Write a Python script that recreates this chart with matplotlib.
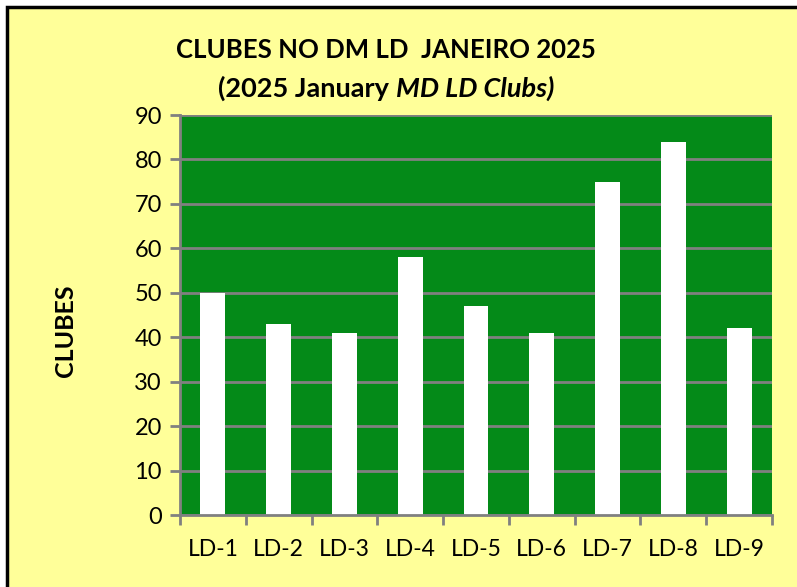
import matplotlib
matplotlib.use("Agg")
import matplotlib.pyplot as plt
from matplotlib.patches import Rectangle

districts = ["LD-1", "LD-2", "LD-3", "LD-4", "LD-5", "LD-6", "LD-7", "LD-8", "LD-9"]
clubs = [50, 43, 41, 58, 47, 41, 75, 84, 42]
y_ticks = [0, 10, 20, 30, 40, 50, 60, 70, 80, 90]

YELLOW = "#FFFF99"
GREEN = "#048A18"
GRAY = "#808080"

plt.rcParams["font.family"] = ["Lato", "DejaVu Sans"]

W, H = 797, 587
fig = plt.figure(figsize=(W / 100, H / 100), dpi=100, facecolor="white")

# yellow chart area with black frame on the left/top (right and bottom cut off)
fig.patches.append(Rectangle((7 / W, -0.05), 1.1, 1 - 7 / H + 0.05,
                             transform=fig.transFigure, facecolor=YELLOW,
                             edgecolor="black", linewidth=2.5, zorder=-5))

ax = fig.add_axes([180 / W, 1 - 515 / H, (772 - 180) / W, (515 - 115) / H])
ax.set_zorder(2)
ax.set_facecolor(GREEN)

x = range(len(districts))
ax.bar(x, clubs, width=0.38, color="white", zorder=3)

ax.set_xlim(-0.5, len(districts) - 0.5)
ax.set_ylim(0, 90)
ax.set_yticks(y_ticks)
ax.set_yticklabels([str(v) for v in y_ticks], fontsize=17)
ax.set_xticks(list(x))
ax.set_xticklabels(districts, fontsize=16.5)
ax.set_xticks([i - 0.5 for i in range(len(districts) + 1)], minor=True)
ax.tick_params(axis="x", which="major", length=0, pad=17)
ax.tick_params(axis="x", which="minor", length=7, width=2, color=GRAY)
ax.tick_params(axis="y", length=7, width=2, color=GRAY, pad=6)

ax.yaxis.grid(True, color=GRAY, linewidth=2, zorder=1)
ax.set_axisbelow(True)
for side in ["top", "right"]:
    ax.spines[side].set_visible(False)
for side in ["left", "bottom"]:
    ax.spines[side].set_color(GRAY)
    ax.spines[side].set_linewidth(2)
    ax.spines[side].set_zorder(4)

ax.set_ylabel("CLUBES", fontsize=18, fontweight="bold", va="center")
ax.yaxis.set_label_coords(-0.193, 0.46)

fig.text(386 / W, 1 - 50 / H, "CLUBES NO DM LD  JANEIRO 2025",
         ha="center", va="center", fontsize=18.5, fontweight="bold")

# second title line: bold part followed by bold italic part
fig.canvas.draw()
r = fig.canvas.get_renderer()
t1 = fig.text(0, 1 - 88 / H, "(2025 January ", ha="left", va="center",
              fontsize=19.5, fontweight="bold")
t2 = fig.text(0, 1 - 88 / H, "MD LD Clubs)", ha="left", va="center",
              fontsize=19.5, fontweight="bold", style="italic")
w1 = t1.get_window_extent(r).width
w2 = t2.get_window_extent(r).width
x0 = 386 - (w1 + w2) / 2
t1.set_x(x0 / W)
t2.set_x((x0 + w1) / W)

fig.savefig("out.png", dpi=100, facecolor="white")
